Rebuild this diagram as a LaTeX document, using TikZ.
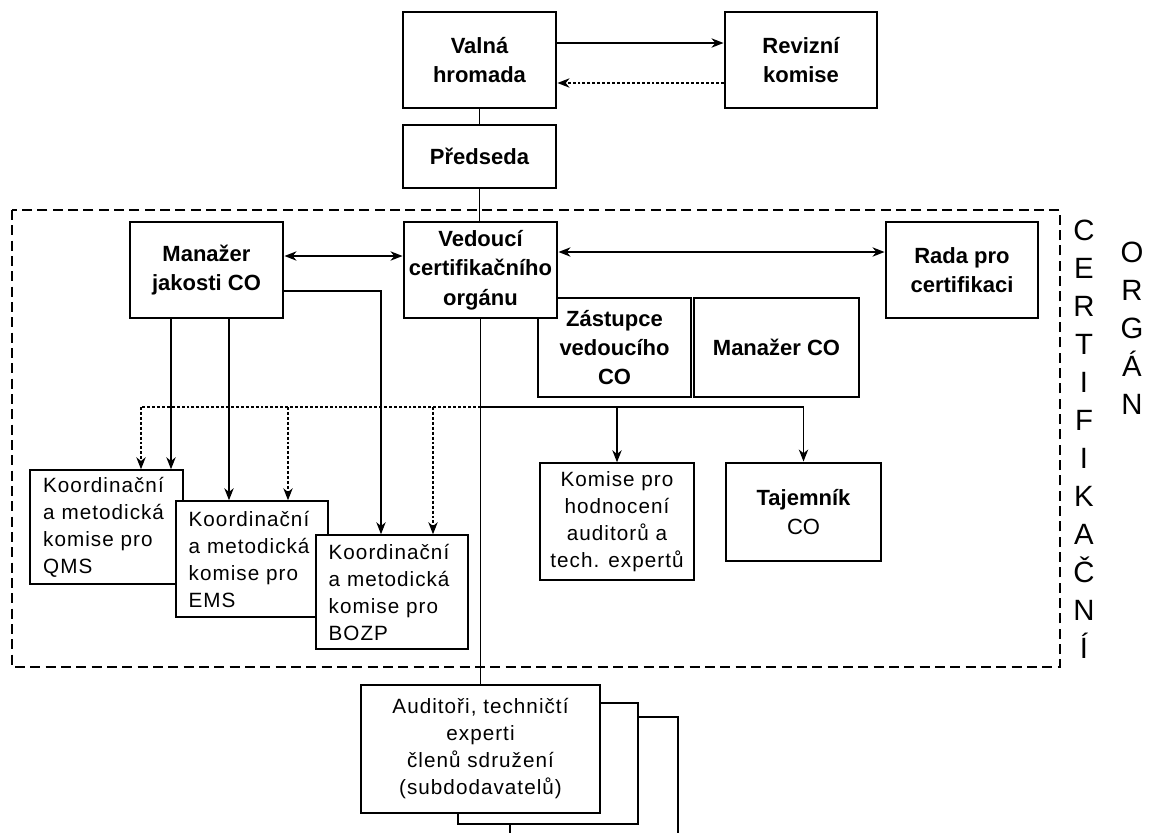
\documentclass[tikz,border=0pt]{standalone}
\usepackage{fontspec}
\setmainfont{Liberation Sans}
\newfontfamily\plainfont[LetterSpace=5]{Liberation Sans}
\usetikzlibrary{arrows.meta, calc, positioning}

\begin{document}
\begin{tikzpicture}[x=0.75pt, y=-0.75pt,
    >={Stealth[length=9pt, width=7pt, inset=2.8pt]},
    bbox/.style 2 args={draw, line width=2.2pt, fill=white, align=center, inner sep=2pt,
        minimum width=#1*0.75pt, minimum height=#2*0.75pt,
        font=\bfseries\fontsize{16.5}{22}\selectfont},
    tbox/.style 2 args={draw, line width=1.1pt, fill=white, align=center, inner sep=2pt,
        minimum width=#1*0.75pt, minimum height=#2*0.75pt,
        font=\plainfont\fontsize{15.5}{20.25}\selectfont},
    kbox/.style={align=left, text width=95pt},
    line/.style={line width=1.2pt},
    dline/.style={line width=1.2pt, dash pattern=on 2.2pt off 1.5pt},
    frame/.style={line width=1.1pt, dash pattern=on 7.5pt off 4pt},
    letter/.style={anchor=base, inner sep=0pt, font=\fontsize{22}{26}\selectfont}]
\useasboundingbox (0,0) rectangle (1149,832);
\clip (0,0) rectangle (1149,832);

% top
\node[bbox={153}{96}] (valna) at (479.5,60) {Valná\\hromada};
\node[bbox={152}{96}] (revize) at (801,60) {Revizní\\komise};
\node[bbox={153}{63}] (predseda) at (479.5,156.5) {Předseda};

% certification body frame
\draw[frame] (12,210) rectangle (1060,667);
\foreach \l [count=\i] in {C,E,R,T,I,F,I,K,A,Č,N,Í}
    \node[letter] (cert\i) at (1084,240+38*\i-38) {\l};
\foreach \l [count=\i] in {O,R,G,Á,N}
    \node[letter] (org\i) at (1132,262+38*\i-38) {\l};

\node[bbox={153}{96}] (jakost) at (206.5,270) {Manažer\\jakosti CO};
\node[bbox={153}{99}] (zastupce) at (614.5,347.5) {Zástupce\\vedoucího\\CO};
\node[bbox={165}{99}] (manco) at (776.5,347.5) {Manažer CO};
\node[bbox={153}{96}] (vedouci) at (480.5,270) {Vedoucí\\certifikačního\\orgánu};
\node[bbox={152}{96}] (rada) at (962,270) {Rada pro\\certifikaci};

\node[tbox={153}{114}, kbox] (qms) at (106.5,527) {Koordinační\\a metodická\\komise pro\\QMS};
\node[tbox={152}{116}, kbox] (ems) at (252,559) {Koordinační\\a metodická\\komise pro\\EMS};
\node[tbox={152}{114}, kbox] (bozp) at (392,592) {Koordinační\\a metodická\\komise pro\\BOZP};
\node[tbox={154}{117}] (komise) at (617,521.5) {Komise pro\\hodnocení\\auditorů a\\tech. expertů};
\node[bbox={155}{98}] (tajemnik) at (803.5,512) {Tajemník\\{\mdseries CO}};

% auditors
\node[tbox={168}{128}] (aud3) at (594,781) {};
\node[tbox={180}{121}] (aud2) at (548,763.5) {};
\node[tbox={239}{128}] (aud) at (480.5,749) {Auditoři, techničtí\\experti\\členů sdružení\\(subdodavatelů)};

% connectors
\draw[line, ->] ($(valna.east)+(0,-17)$) -- ($(revize.west)+(0,-17)$);
\draw[dline, ->] ($(revize.west)+(0,23)$) -- ($(valna.east)+(0,23)$);
\draw[line] (valna.south) -- (predseda.north);
\draw[line] (predseda.south) -- (predseda.south |- vedouci.north);
\draw[line, <->] ($(jakost.east)+(0,-14)$) -- ($(vedouci.west)+(0,-14)$);
\draw[line, <->] ($(vedouci.east)+(0,-18)$) -- ($(rada.west)+(0,-18)$);

\draw[line] (vedouci.south) -- (vedouci.south |- aud.north);
\draw[line] (vedouci.south |- 0,407) -- (tajemnik.north |- 0,407);
\draw[line, ->] (komise.north |- 0,407) -- (komise.north);
\draw[line, ->] (tajemnik.north |- 0,407) -- (tajemnik.north);

\draw[dline] (vedouci.south |- 0,407) -- (141,407);
\foreach \x/\n in {141/qms, 288/ems, 433/bozp}
    \draw[dline, ->] (\x,407) -- (\n.north -| \x,0);
\foreach \x/\n in {171/qms, 229/ems}
    \draw[line, ->] (jakost.south -| \x,0) -- (\n.north -| \x,0);
\draw[line, ->] (jakost.east |- 0,291) -| (bozp.north -| 381,0);
\end{tikzpicture}
\end{document}
